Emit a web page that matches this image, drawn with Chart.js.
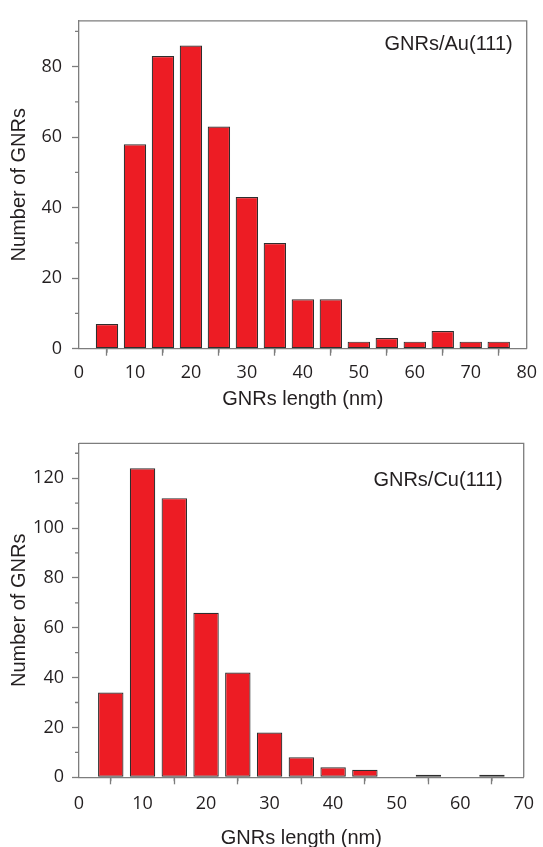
<!DOCTYPE html>
<html>
<head>
<meta charset="utf-8">
<script src="https://cdn.jsdelivr.net/npm/chart.js@4.4.0/dist/chart.umd.min.js"></script>
<style>
  html, body { margin: 0; padding: 0; background: #ffffff; }
  .wrap { position: absolute; left: 0; width: 543px; }
  #w1 { top: 0; height: 415px; }
  #w2 { top: 415px; height: 432px; }
</style>
</head>
<body>
<div class="wrap" id="w1"><canvas id="c1" width="543" height="415"></canvas></div>
<div class="wrap" id="w2"><canvas id="c2" width="543" height="432"></canvas></div>
<script>
// ---- data ----
const auLengths = [5, 10, 15, 20, 25, 30, 35, 40, 45, 50, 55, 60, 65, 70, 75];
const auCounts  = [7, 58, 83, 86, 63, 43, 30, 14, 14, 2, 3, 2, 5, 2, 2];
const cuLengths = [5, 10, 15, 20, 25, 30, 35, 40, 45, 50, 55, 60, 65];
const cuCounts  = [34, 124, 112, 66, 42, 18, 8, 4, 3, 0, 1, 0, 1];

const auXTicks = [0, 10, 20, 30, 40, 50, 60, 70, 80];
const auYTicks = [0, 20, 40, 60, 80];
const auXMinor = [5, 15, 25, 35, 45, 55, 65, 75];
const auYMinor = [10, 30, 50, 70, 90];

const cuXTicks = [0, 10, 20, 30, 40, 50, 60, 70];
const cuYTicks = [0, 20, 40, 60, 80, 100, 120];
const cuXMinor = [5, 15, 25, 35, 45, 55, 65];
const cuYMinor = [10, 30, 50, 70, 90, 110, 130];

const xTitle = 'GNRs length (nm)';
const yTitle = 'Number of GNRs';
const auLabel = 'GNRs/Au(111)';
const cuLabel = 'GNRs/Cu(111)';

// ---- styles ----
const AXIS = '#7d7d7d';
const TEXT = '#231f20';
const BAR = '#ed1c24';
const BAR_EDGE = '#2e2e2e';
const TICK_FONT = { family: '"Open Sans", sans-serif', size: 18 };
const TITLE_FONT = { family: '"Liberation Sans", Arial, sans-serif', size: 20, lineHeight: 1.2 };

const extras = {
  id: 'extras',
  afterDraw(chart, args, o) {
    const { ctx, chartArea: a, scales: { x, y } } = chart;
    ctx.save();
    ctx.strokeStyle = AXIS;
    ctx.lineWidth = 1.3;
    ctx.beginPath();
    ctx.moveTo(a.left, a.top);
    ctx.lineTo(a.right, a.top);
    ctx.lineTo(a.right, a.bottom);
    ctx.stroke();
    ctx.beginPath();
    for (const v of o.xMinor) {
      const px = x.getPixelForValue(v);
      ctx.moveTo(px, a.bottom);
      ctx.lineTo(px, a.bottom + 4);
    }
    for (const v of o.yMinor) {
      const py = y.getPixelForValue(v);
      ctx.moveTo(a.left, py);
      ctx.lineTo(a.left - 4, py);
    }
    ctx.stroke();
    ctx.fillStyle = TEXT;
    ctx.font = '20px "Liberation Sans", Arial, sans-serif';
    ctx.textAlign = 'right';
    ctx.textBaseline = 'middle';
    ctx.fillText(o.label, a.right - o.dx, a.top + o.dy);
    ctx.restore();
  }
};

function makeChart(id, lengths, counts, xTicks, yTicks, xMinor, yMinor, label, cfg) {
  const data = lengths.map((l, i) => ({ x: l, y: counts[i] }));
  return new Chart(document.getElementById(id), {
    type: 'bar',
    data: {
      datasets: [{
        data: data,
        backgroundColor: BAR,
        borderColor: BAR_EDGE,
        borderWidth: 1.2,
        borderSkipped: false,
        categoryPercentage: 1.0,
        barPercentage: 0.8
      }]
    },
    plugins: [extras],
    options: {
      responsive: false,
      animation: false,
      devicePixelRatio: 1,
      layout: { padding: { top: cfg.top, right: cfg.right, left: 0, bottom: 0 } },
      plugins: {
        legend: { display: false },
        tooltip: { enabled: false },
        extras: { xMinor: xMinor, yMinor: yMinor, label: label, dx: cfg.labelDx, dy: cfg.labelDy }
      },
      scales: {
        x: {
          type: 'linear',
          offset: false,
          min: xTicks[0],
          max: xTicks[xTicks.length - 1],
          afterBuildTicks(s) { s.ticks = xTicks.map(v => ({ value: v })); },
          afterFit(s) { s.height = cfg.xHeight; },
          ticks: { color: TEXT, font: TICK_FONT, padding: cfg.xPad, maxRotation: 0, autoSkip: false },
          grid: { display: true, drawOnChartArea: false, drawTicks: true, tickLength: 7, tickColor: AXIS, tickWidth: 1.3 },
          border: { display: true, color: AXIS, width: 1.3 },
          title: { display: true, text: xTitle, color: TEXT, font: TITLE_FONT, padding: { top: 0, bottom: cfg.xTitlePad } }
        },
        y: {
          type: 'linear',
          min: 0,
          max: cfg.yMax,
          afterBuildTicks(s) { s.ticks = yTicks.map(v => ({ value: v })); },
          afterFit(s) { s.width = cfg.yWidth; },
          ticks: { color: TEXT, font: TICK_FONT, padding: cfg.yPad, autoSkip: false },
          grid: { display: true, drawOnChartArea: false, drawTicks: true, tickLength: 7, tickColor: AXIS, tickWidth: 1.3 },
          border: { display: true, color: AXIS, width: 1.3 },
          title: { display: true, text: yTitle, color: TEXT, font: TITLE_FONT, padding: { top: cfg.yTitlePad, bottom: 0 } }
        }
      }
    }
  });
}

makeChart('c1', auLengths, auCounts, auXTicks, auYTicks, auXMinor, auYMinor, auLabel, {
  top: 15, right: 12, yMax: 93, xHeight: 415 - 348.7, yWidth: 79,
  xPad: 6, yPad: 10, xTitlePad: 4, yTitlePad: 7, labelDx: 14, labelDy: 24
});

makeChart('c2', cuLengths, cuCounts, cuXTicks, cuYTicks, cuXMinor, cuYMinor, cuLabel, {
  top: 28.3, right: 10.5, yMax: 134, xHeight: 432 - 362.3, yWidth: 79,
  xPad: 9, yPad: 8, xTitlePad: -3, yTitlePad: 7, labelDx: 21, labelDy: 37
});
</script>
</body>
</html>
